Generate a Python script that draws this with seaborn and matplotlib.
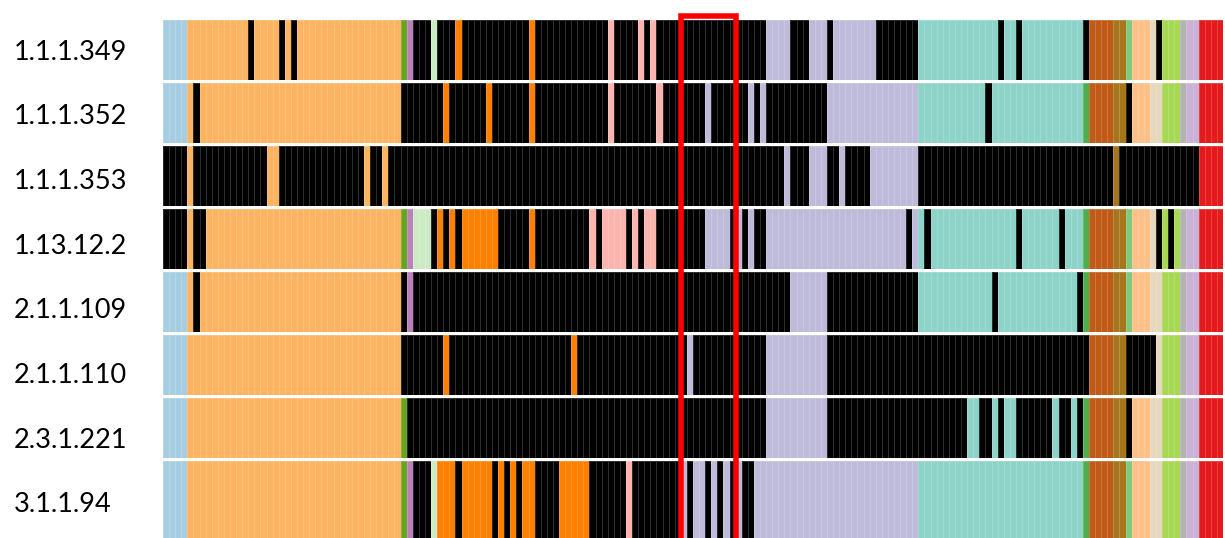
import numpy as np
import matplotlib
matplotlib.use("Agg")
import matplotlib.pyplot as plt
from matplotlib.colors import ListedColormap
from matplotlib.patches import Rectangle
from matplotlib.transforms import blended_transform_factory
import seaborn as sns

# category -> colour
palette = {
    "B": "#000000",   # black
    "lb": "#a6cee3",  # light blue
    "O": "#fdb462",   # light orange
    "DO": "#ff7f00",  # dark orange
    "G": "#66a61e",   # green (left)
    "P": "#bc80bd",   # purple
    "LG": "#ccebc5",  # pale green
    "PK": "#fbb4ae",  # pink
    "L": "#bebada",   # lavender
    "T": "#8dd3c7",   # teal
    "G2": "#4daf4a",  # green (right)
    "BR": "#bf5b17",  # brown
    "OL": "#a6761d",  # olive
    "MG": "#7fc97f",  # mid green
    "PE": "#fdc086",  # peach
    "BE": "#e5d8bd",  # beige
    "LI": "#a6d854",  # lime
    "GR": "#b3b3b3",  # grey
    "LV": "#cab2d6",  # lavender 2
    "R": "#e41a1c",   # red
}

labels = ["1.1.1.349", "1.1.1.352", "1.1.1.353", "1.13.12.2",
          "2.1.1.109", "2.1.1.110", "2.3.1.221", "3.1.1.94"]

# run-length encoded rows: (category, number of columns)
row_349 = [("lb", 4), ("O", 10), ("B", 1), ("O", 4), ("B", 1), ("O", 1), ("B", 1), ("O", 17),
           ("G", 1), ("P", 1), ("B", 3), ("LG", 1), ("B", 3), ("DO", 1), ("B", 11), ("DO", 1),
           ("B", 12), ("PK", 1), ("B", 4), ("PK", 1), ("B", 1), ("PK", 1), ("B", 18), ("L", 4),
           ("B", 3), ("L", 3), ("B", 1), ("L", 7), ("B", 7), ("T", 13), ("B", 1), ("T", 2),
           ("B", 1), ("T", 10), ("B", 1), ("BR", 4), ("OL", 2), ("MG", 1), ("PE", 3), ("BE", 1),
           ("B", 1), ("LI", 3), ("GR", 1), ("LV", 2), ("R", 4)]
row_352 = [("lb", 4), ("O", 1), ("B", 1), ("O", 33), ("B", 7), ("DO", 1), ("B", 6), ("DO", 1),
           ("B", 6), ("DO", 1), ("B", 12), ("PK", 1), ("B", 7), ("PK", 1), ("B", 7), ("L", 1),
           ("B", 6), ("L", 1), ("B", 1), ("L", 1), ("B", 10), ("L", 15), ("T", 11), ("B", 1),
           ("T", 15), ("G2", 1), ("BR", 4), ("OL", 2), ("B", 1), ("PE", 3), ("BE", 2), ("LI", 3),
           ("GR", 1), ("LV", 2), ("R", 4)]
row_353 = [("B", 4), ("O", 1), ("B", 12), ("O", 2), ("B", 14), ("O", 1), ("B", 2),
           ("O", 1), ("B", 65), ("L", 1), ("B", 3), ("L", 3), ("B", 2), ("L", 1), ("B", 4),
           ("L", 8), ("B", 32), ("OL", 1), ("B", 13), ("R", 4)]
row_1312 = [("B", 4), ("O", 1), ("B", 2), ("O", 32), ("G", 1), ("P", 1), ("LG", 3), ("B", 1),
            ("DO", 1), ("B", 1), ("DO", 1), ("B", 1), ("DO", 6), ("B", 5), ("DO", 1), ("B", 9),
            ("PK", 1), ("B", 1), ("PK", 4), ("B", 1), ("PK", 1), ("B", 1), ("PK", 2), ("B", 8),
            ("L", 4), ("B", 1), ("L", 1), ("B", 1), ("L", 1), ("B", 2), ("L", 23), ("B", 1),
            ("L", 1), ("T", 1), ("B", 1), ("T", 14), ("B", 1), ("T", 6), ("B", 1), ("T", 3),
            ("G2", 1), ("BR", 4), ("OL", 2), ("MG", 1), ("PE", 3), ("BE", 1), ("B", 1), ("LI", 1),
            ("B", 1), ("LI", 1), ("GR", 1), ("LV", 2), ("R", 4)]
row_109 = [("lb", 4), ("O", 1), ("B", 1), ("O", 33), ("B", 1), ("P", 1), ("B", 62), ("L", 6),
           ("B", 15), ("T", 12), ("B", 1), ("T", 13), ("B", 1), ("G2", 1), ("BR", 4), ("OL", 2),
           ("MG", 1), ("PE", 3), ("BE", 2), ("LI", 3), ("GR", 1), ("LV", 2), ("R", 4)]
row_110 = [("lb", 4), ("O", 35), ("B", 7), ("DO", 1), ("B", 20), ("DO", 1), ("B", 18), ("L", 1),
           ("B", 12), ("L", 10), ("B", 43), ("BR", 4), ("OL", 2), ("B", 5), ("BE", 1), ("LI", 3),
           ("GR", 1), ("LV", 2), ("R", 4)]
row_221 = [("lb", 4), ("O", 35), ("G", 1), ("B", 59), ("L", 10), ("B", 23), ("T", 2), ("B", 2),
           ("T", 1), ("B", 1), ("T", 2), ("B", 6), ("T", 1), ("B", 2), ("T", 1), ("B", 1),
           ("G2", 1), ("BR", 4), ("OL", 2), ("B", 1), ("PE", 3), ("BE", 2), ("LI", 3), ("GR", 1),
           ("LV", 2), ("R", 4)]
row_94 = [("lb", 4), ("O", 35), ("G", 1), ("P", 1), ("B", 3), ("LG", 1), ("DO", 3), ("B", 1),
          ("DO", 5), ("B", 1), ("DO", 1), ("B", 1), ("DO", 1), ("B", 1), ("DO", 2), ("B", 4),
          ("DO", 5), ("B", 6), ("PK", 1), ("B", 8), ("L", 1), ("B", 1), ("L", 2), ("B", 1),
          ("L", 1), ("B", 1), ("L", 1), ("B", 1), ("L", 1), ("B", 2), ("L", 27), ("T", 27),
          ("G2", 1), ("BR", 4), ("OL", 2), ("MG", 1), ("PE", 3), ("BE", 2), ("LI", 3), ("GR", 1),
          ("LV", 2), ("R", 4)]

rows = [row_349, row_352, row_353, row_1312, row_109, row_110, row_221, row_94]

# highlighted window of columns (red box)
highlight_cols = (85, 94)

cats = list(palette.keys())
cmap = ListedColormap([palette[c] for c in cats])


def expand(row):
    codes = [cats.index(c) for c, n in row]
    counts = [n for c, n in row]
    return np.repeat(codes, counts)


mat = np.vstack([expand(r) for r in rows])
n_cols = mat.shape[1]

plt.rcParams['font.family'] = ['Lato', 'DejaVu Sans']
fig = plt.figure(figsize=(12.25, 5.38), dpi=100)
W, H = 1225.0, 538.0
left, right = 163 / W, 1223 / W
top_px, pitch, gap = 20.0, 63.0, 3.0
label_top, label_pitch = 52.0, 64.7

axes = []
for i, lab in enumerate(labels):
    h = pitch - gap if i < len(labels) - 1 else 90.0
    y0 = top_px + i * pitch
    ax = fig.add_axes([left, 1 - (y0 + h) / H, right - left, h / H])
    sns.heatmap(mat[i:i + 1], ax=ax, cmap=cmap, vmin=-0.5, vmax=len(cats) - 0.5,
                cbar=False, xticklabels=False, yticklabels=False,
                linewidths=0.5, linecolor=(1, 1, 1, 0.18))
    ax.set_xlim(0, n_cols)
    ax.set_ylim(1, 0)
    ax.tick_params(left=False, bottom=False)
    label_y = label_top + i * label_pitch
    fig.text(14 / W, 1 - label_y / H, lab, ha='left', va='center', fontsize=19.5)
    axes.append(ax)

# red highlight box spanning all rows
trans = blended_transform_factory(axes[0].transData, fig.transFigure)
x0, x1 = highlight_cols
box = Rectangle((x0, -0.1), x1 - x0, 1 - 15.5 / H + 0.1, transform=trans,
                fill=False, edgecolor='#ff0000', linewidth=4, clip_on=False)
fig.add_artist(box)

fig.savefig('out.png', dpi=100, facecolor='white')
